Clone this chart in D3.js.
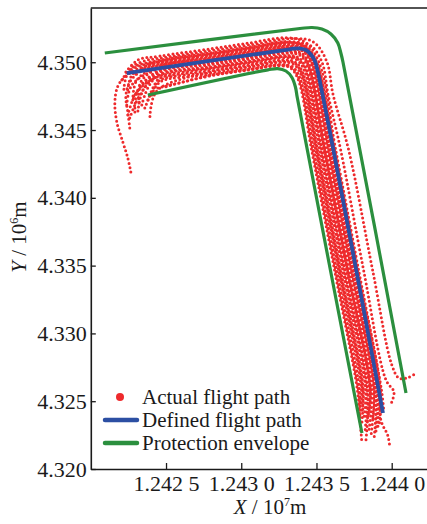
<!DOCTYPE html>
<html>
<head>
<meta charset="utf-8">
<script src="https://cdn.jsdelivr.net/npm/d3@7"></script>
<style>
  html, body { margin: 0; padding: 0; background: #fff; }
  svg { display: block; }
  text { font-family: "Liberation Serif", "Times New Roman", serif; fill: #1a1a1a; }
</style>
</head>
<body>
<svg id="chart" width="427" height="524"></svg>
<script>
// Axis ticks (X in 10^7 m, Y in 10^6 m)
const xTicks = [1.2425, 1.2430, 1.2435, 1.2440];
const xTickLabels = ["1.242 5", "1.243 0", "1.243 5", "1.244 0"];
const yTicks = [4.320, 4.325, 4.330, 4.335, 4.340, 4.345, 4.350];
const yTickLabels = ["4.320", "4.325", "4.330", "4.335", "4.340", "4.345", "4.350"];

// Defined flight path
const definedPath = [
  [1.242239, 4.349205], [1.243323, 4.350953], [1.243383, 4.351027], [1.243430, 4.350902],
  [1.243463, 4.350570], [1.243489, 4.350090], [1.243503, 4.349574], [1.243942, 4.324130]
];

// Protection envelope, outer and inner boundaries
const envelopeOuter = [
  [1.242093, 4.350680], [1.243390, 4.352487], [1.243470, 4.352561], [1.243536, 4.352450],
  [1.243596, 4.352081], [1.243642, 4.351418], [1.243662, 4.350680], [1.243676, 4.350016],
  [1.244095, 4.325605]
];
const envelopeInner = [
  [1.242379, 4.347583], [1.243177, 4.349441], [1.243243, 4.349530], [1.243297, 4.349353],
  [1.243337, 4.348873], [1.243360, 4.348173], [1.243373, 4.347361], [1.243802, 4.322655]
];

// Recorded flight tracks
const actualTracks = [
  [[1.242233,4.349279],[1.242313,4.350164],[1.242459,4.350452],[1.242798,4.350997],[1.243057,4.351425],
   [1.243287,4.351801],[1.243424,4.351492],[1.243517,4.349972],[1.243628,4.34353],[1.243780,4.33468],
   [1.243932,4.32583],[1.243948,4.324204]],
  [[1.242273,4.349722],[1.242366,4.350127],[1.242459,4.350305],[1.242798,4.350850],[1.243057,4.351278],
   [1.243354,4.351757],[1.243482,4.351477],[1.243568,4.350061],[1.243611,4.347583],[1.243714,4.34353],
   [1.243873,4.33468],[1.244001,4.32767],[1.244048,4.326711],[1.244101,4.326711],[1.244154,4.327006]],
  [[1.242206,4.348689],[1.242273,4.349574],[1.242459,4.350157],[1.242798,4.350702],[1.243057,4.351130],
   [1.243306,4.351536],[1.243424,4.351270],[1.243504,4.349958],[1.243615,4.34353],[1.243767,4.33468],
   [1.243919,4.32583],[1.243928,4.323614],[1.243975,4.322434],[1.243988,4.321549]],
  [[1.242299,4.349132],[1.242366,4.349722],[1.242459,4.350010],[1.242798,4.350555],[1.243057,4.350983],
   [1.243354,4.351462],[1.243462,4.351219],[1.243536,4.350017],[1.243578,4.347583],[1.243661,4.34353],
   [1.243813,4.33468],[1.243962,4.326564],[1.244015,4.325679],[1.243995,4.324794]],
  [[1.242220,4.348000],[1.242253,4.349300],[1.242459,4.350083],[1.242798,4.350628],[1.243057,4.351056],
   [1.243315,4.351470],[1.243424,4.351160],[1.243498,4.349954],[1.243621,4.34353],[1.243773,4.33468],
   [1.243925,4.32583],[1.243918,4.323300]],
  [[1.242246,4.347952],[1.242279,4.349132],[1.242459,4.349862],[1.242798,4.350407],[1.243057,4.350835],
   [1.243325,4.351270],[1.243424,4.351049],[1.243491,4.349950],[1.243601,4.34353],[1.243753,4.33468],
   [1.243905,4.32583],[1.243908,4.323024]],
  [[1.242279,4.347214],[1.242306,4.348689],[1.242459,4.349715],[1.242798,4.350260],[1.243057,4.350688],
   [1.243327,4.351123],[1.243417,4.350924],[1.243478,4.349928],[1.243588,4.34353],[1.243740,4.33468],
   [1.243892,4.32583],[1.243882,4.322139]],
  [[1.242320,4.347000],[1.242330,4.348500],[1.242459,4.349641],[1.242798,4.350186],[1.243057,4.350614],
   [1.243328,4.351053],[1.243413,4.350865],[1.243471,4.349920],[1.243582,4.34353],[1.243733,4.33468],
   [1.243885,4.32583],[1.243872,4.323500]],
  [[1.242239,4.346846],[1.242273,4.348321],[1.242459,4.349567],[1.242798,4.350112],[1.243057,4.350540],
   [1.243330,4.350983],[1.243410,4.350806],[1.243464,4.349913],[1.243575,4.34353],[1.243727,4.33468],
   [1.243879,4.32583],[1.243862,4.322434]],
  [[1.242293,4.346329],[1.242313,4.347952],[1.242459,4.349419],[1.242798,4.349964],[1.243057,4.350392],
   [1.243326,4.350828],[1.243402,4.350666],[1.243452,4.349825],[1.243561,4.34353],[1.243713,4.33468],
   [1.243865,4.32583],[1.243849,4.322876]],
  [[1.242246,4.346100],[1.242300,4.347700],[1.242459,4.349345],[1.242798,4.349890],[1.243057,4.350318],
   [1.243321,4.350747],[1.243397,4.350581],[1.243447,4.349740],[1.243554,4.34353],[1.243706,4.33468],
   [1.243858,4.32583],[1.243845,4.324000]],
  [[1.242259,4.345887],[1.242326,4.347583],[1.242459,4.349272],[1.242798,4.349817],[1.243057,4.350245],
   [1.243316,4.350666],[1.243392,4.350496],[1.243442,4.349655],[1.243548,4.34353],[1.243700,4.33468],
   [1.243852,4.32583],[1.243835,4.323319]],
  [[1.242339,4.346846],[1.242379,4.348099],[1.242459,4.349124],[1.242798,4.349669],[1.243057,4.350097],
   [1.243305,4.350503],[1.243381,4.350334],[1.243432,4.349493],[1.243535,4.34353],[1.243687,4.33468],
   [1.243839,4.32583],[1.243829,4.322139]],
  [[1.242313,4.346400],[1.242350,4.348000],[1.242459,4.349050],[1.242798,4.349595],[1.243057,4.350023],
   [1.243300,4.350418],[1.243375,4.350252],[1.243426,4.349412],[1.243528,4.34353],[1.243680,4.33468],
   [1.243832,4.32583],[1.243822,4.322700]],
  [[1.242286,4.347509],[1.242359,4.348394],[1.242459,4.348977],[1.242798,4.349522],[1.243057,4.349950],
   [1.243295,4.350334],[1.243370,4.350171],[1.243421,4.349331],[1.243522,4.34353],[1.243674,4.33468],
   [1.243826,4.32583],[1.243815,4.323761]],
  [[1.242379,4.347214],[1.242426,4.348394],[1.242459,4.348829],[1.242798,4.349374],[1.243057,4.349802],
   [1.243285,4.350171],[1.243360,4.350009],[1.243411,4.349168],[1.243508,4.34353],[1.243660,4.33468],
   [1.243812,4.32583],[1.243802,4.324204]],
  [[1.242393,4.346000],[1.242440,4.347900],[1.242798,4.349300],[1.243057,4.349728],
   [1.243280,4.350090],[1.243355,4.349925],[1.243406,4.349084],[1.243502,4.34353],[1.243654,4.33468],
   [1.243806,4.32583],[1.243800,4.323200]],
  [[1.242359,4.346624],[1.242406,4.347804],[1.242459,4.348682],[1.242798,4.349227],[1.243057,4.349655],
   [1.243274,4.350009],[1.243350,4.349840],[1.243400,4.348999],[1.243495,4.34353],[1.243647,4.33468],
   [1.243799,4.32583],[1.243795,4.324720]],
  [[1.242406,4.347583],[1.242459,4.348534],[1.242798,4.349079],[1.243057,4.349507],
   [1.243263,4.349840],[1.243339,4.349677],[1.243390,4.348837],[1.243482,4.34353],[1.243634,4.33468],
   [1.243786,4.32583],[1.243789,4.323983]],
  [[1.242500,4.348200],[1.242798,4.349043],[1.243057,4.349471],[1.243257,4.349792],[1.243333,4.349629],
   [1.243384,4.348789],[1.243475,4.34353],[1.243627,4.33468],[1.243779,4.32583],[1.243790,4.324500]],
  [[1.242446,4.348099],[1.242798,4.349006],[1.243057,4.349434],
   [1.243251,4.349744],[1.243327,4.349581],[1.243378,4.348741],[1.243468,4.34353],[1.243620,4.33468],
   [1.243772,4.32583],[1.243789,4.323614],[1.243802,4.321918]],
  [[1.242266,4.341904],[1.242246,4.342936],[1.242213,4.344116],[1.242173,4.345591],[1.242160,4.347066],
   [1.242180,4.348246],[1.242233,4.348984],[1.242326,4.349574],[1.242459,4.349936],[1.242798,4.350481],
   [1.243057,4.350909],[1.243323,4.351344],[1.243427,4.351108],[1.243497,4.349958],[1.243608,4.34353],
   [1.243760,4.33468],[1.243912,4.32583],[1.243922,4.324351]],
  [[1.242259,4.345149],[1.242246,4.346329],[1.242233,4.347509],[1.242259,4.348541],[1.242326,4.349279],
   [1.242459,4.349788],[1.242798,4.350333],[1.243057,4.350761],[1.243326,4.351204],[1.243420,4.350990],
   [1.243484,4.349943],[1.243595,4.34353],[1.243747,4.33468],[1.243899,4.32583],[1.243895,4.322729]]
];

const legendItems = ["Actual flight path", "Defined flight path", "Protection envelope"];

const RED = "#ee2a2c", BLUE = "#2c4fa3", GREEN = "#2b8f3e", INK = "#1a1a1a";
const SERIF = '"Liberation Serif", "Times New Roman", serif';

const svg = d3.select("#chart");
const x = d3.scaleLinear().domain([1.2420, 1.2442346]).range([90.8, 427]);
const y = d3.scaleLinear().domain([4.320, 4.354]).range([469, 8]);

const line = d3.line().x(d => x(d[0])).y(d => y(d[1])).curve(d3.curveCatmullRom.alpha(0.5));

// Actual tracks as dotted lines
svg.append("g").selectAll("path").data(actualTracks).join("path")
  .attr("d", line)
  .attr("fill", "none")
  .attr("stroke", RED)
  .attr("stroke-width", 3)
  .attr("stroke-linecap", "round")
  .attr("stroke-dasharray", "0 4.4");

// Defined path
svg.append("path").attr("d", line(definedPath))
  .attr("fill", "none").attr("stroke", BLUE).attr("stroke-width", 3.8)
  .attr("stroke-linejoin", "round");

// Protection envelope
svg.append("g").selectAll("path").data([envelopeOuter, envelopeInner]).join("path")
  .attr("d", line)
  .attr("fill", "none").attr("stroke", GREEN).attr("stroke-width", 3.2)
  .attr("stroke-linejoin", "round");

// Axes
const tickFont = 22, labelFont = 21;
const yAxis = svg.append("g").attr("transform", `translate(${x(1.2420)},0)`)
  .call(d3.axisLeft(y).tickValues(yTicks).tickSizeInner(-5).tickSizeOuter(0).tickPadding(4)
    .tickFormat((d, i) => yTickLabels[i]));
const xAxis = svg.append("g").attr("transform", `translate(0,${y(4.320)})`)
  .call(d3.axisBottom(x).tickValues(xTicks).tickSizeInner(-6).tickSizeOuter(0).tickPadding(6)
    .tickFormat((d, i) => xTickLabels[i]));
[yAxis, xAxis].forEach(g => {
  g.select(".domain").attr("stroke", INK).attr("stroke-width", 1.6);
  g.selectAll(".tick line").attr("stroke", INK).attr("stroke-width", 1.3);
  g.selectAll(".tick text").attr("font-size", tickFont).attr("fill", INK).style("font-family", SERIF);
});
// Top frame edge
svg.append("line").attr("x1", x(1.2420)).attr("x2", 427).attr("y1", y(4.354)).attr("y2", y(4.354))
  .attr("stroke", INK).attr("stroke-width", 1.6);

// Axis titles
const xt = svg.append("text").attr("x", 270).attr("y", 514).attr("text-anchor", "middle").attr("font-size", labelFont);
xt.append("tspan").attr("font-style", "italic").text("X");
xt.append("tspan").text(" / 10");
xt.append("tspan").attr("font-size", 12).attr("dy", -8).text("7");
xt.append("tspan").attr("dy", 8).text("m");

const yt = svg.append("text").attr("transform", "translate(26,237) rotate(-90)")
  .attr("text-anchor", "middle").attr("font-size", labelFont);
yt.append("tspan").attr("font-style", "italic").text("Y");
yt.append("tspan").text(" / 10");
yt.append("tspan").attr("font-size", 12).attr("dy", -8).text("6");
yt.append("tspan").attr("dy", 8).text("m");

// Legend
const lg = svg.append("g");
const rows = [397, 420, 443];
lg.append("circle").attr("cx", 120).attr("cy", rows[0]).attr("r", 4).attr("fill", RED);
lg.append("line").attr("x1", 105).attr("x2", 137).attr("y1", rows[1]).attr("y2", rows[1])
  .attr("stroke", BLUE).attr("stroke-width", 4.5).attr("stroke-linecap", "round");
lg.append("line").attr("x1", 105).attr("x2", 137).attr("y1", rows[2]).attr("y2", rows[2])
  .attr("stroke", GREEN).attr("stroke-width", 4.5).attr("stroke-linecap", "round");
lg.selectAll("text").data(legendItems).join("text")
  .attr("x", 142).attr("y", (d, i) => rows[i] + 7)
  .attr("font-size", labelFont).text(d => d);
</script>
</body>
</html>
